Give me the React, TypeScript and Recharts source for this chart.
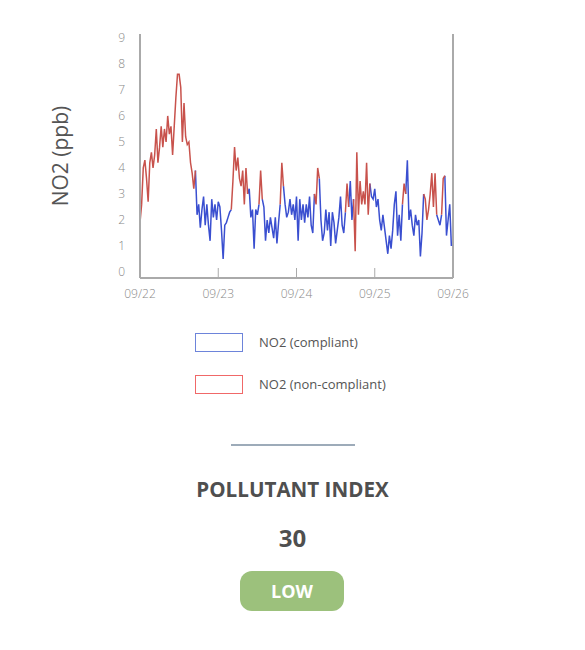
import { LineChart, Line, XAxis, YAxis, ReferenceLine } from 'recharts';

// 30-minute readings starting 09/22 00:00
const no2Values = [
  1.9, 2.6, 4.0, 4.3, 3.6, 2.7, 4.2, 4.6, 4.0, 4.5,
  5.5, 4.2, 4.8, 5.6, 4.8, 5.5, 5.0, 6.0, 5.3, 5.6,
  4.5, 5.6, 6.7, 7.6, 7.6, 7.1, 5.0, 6.5, 5.2, 4.9,
  5.0, 4.2, 3.8, 3.2, 3.9, 2.2, 2.6, 1.7, 2.4, 2.9,
  1.8, 2.6, 1.8, 1.2, 2.8, 2.1, 2.6, 2.0, 2.7, 2.5,
  1.6, 0.5, 1.8, 1.9, 2.1, 2.3, 2.4, 3.5, 4.8, 3.9,
  4.4, 3.6, 3.3, 3.9, 2.6, 4.0, 3.0, 3.2, 2.1, 2.4,
  0.9, 2.4, 2.2, 2.6, 3.9, 2.8, 2.5, 1.2, 2.0, 1.5,
  2.1, 1.7, 1.3, 2.1, 1.1, 1.9, 2.6, 4.2, 3.3, 2.6,
  2.1, 2.3, 2.8, 2.2, 2.6, 2.0, 2.9, 1.2, 2.8, 2.0,
  2.6, 1.9, 2.6, 2.1, 2.9, 1.8, 1.5, 3.0, 2.6, 4.0,
  3.6, 2.0, 1.2, 1.5, 2.4, 1.6, 2.3, 1.0, 2.3, 1.9,
  1.1, 1.6, 2.1, 2.9, 1.8, 1.5, 2.3, 3.4, 2.5, 3.5,
  2.0, 2.8, 0.8, 4.6, 2.2, 3.5, 2.6, 3.1, 2.6, 4.2,
  2.2, 3.4, 2.9, 2.8, 3.2, 2.5, 2.8, 2.0, 1.6, 2.2,
  1.7, 1.2, 0.7, 1.4, 0.9, 1.6, 2.6, 3.1, 1.4, 2.2,
  1.2, 2.6, 3.4, 3.0, 4.3, 2.0, 2.4, 1.8, 1.4, 2.2,
  1.8, 2.0, 0.6, 1.5, 3.0, 2.8, 2.0, 2.4, 3.0, 3.8,
  2.5, 3.8, 2.2, 2.0, 1.8, 2.2, 3.6, 3.7, 1.4, 2.0,
  2.6, 1.0,
];

// index ranges (inclusive) flagged non-compliant
const nonCompliantRanges = [
  [0, 34], [56, 66], [73, 75], [86, 88], [107, 110],
  [126, 128], [131, 141], [161, 163], [174, 182], [185, 187],
];

const dayTicks = [0, 24, 48, 72, 96];
const dayLabels = ['09/22', '09/23', '09/24', '09/25', '09/26'];
const yTicks = [0, 1, 2, 3, 4, 5, 6, 7, 8, 9];

const legendItems = [
  { label: 'NO2 (compliant)', border: '#6d84da' },
  { label: 'NO2 (non-compliant)', border: '#f06868' },
];

const indexValue = 30;
const indexLevel = 'LOW';

const data = no2Values.map((v, i) => {
  const inRange = nonCompliantRanges.some(([a, b]) => i >= a && i <= b);
  const inside = nonCompliantRanges.some(([a, b]) => i > a && i < b);
  return {
    h: i * 0.5,
    compliant: inside ? null : v,
    nonCompliant: inRange ? v : null,
  };
});

const font = '"Open Sans", sans-serif';

function DayTick(props: any) {
  const { x, y, payload, index } = props;
  const axisY = y - 11;
  return (
    <g>
      {index > 0 && index < dayTicks.length - 1 && (
        <line x1={x} x2={x} y1={axisY - 10} y2={axisY} stroke="#aaa" strokeWidth={1} />
      )}
      <text x={x} y={y} dy="0.71em" textAnchor="middle" fill="#888" fontSize={12} fontWeight={300} fontFamily={font}>
        {dayLabels[dayTicks.indexOf(payload.value)]}
      </text>
    </g>
  );
}

export default function App() {
  return (
    <div style={{ position: 'absolute', left: 0, top: 0, width: 585, height: 650, background: '#fff', fontFamily: font }}>
      <LineChart width={585} height={312} data={data} margin={{ top: 34, right: 132, bottom: 0, left: 0 }}>
        <XAxis
          dataKey="h"
          type="number"
          domain={[0, 96]}
          ticks={dayTicks}
          tickSize={0}
          tickMargin={11}
          tickLine={false}
          tick={<DayTick />}
          height={34}
          stroke="#aaa"
          strokeWidth={2}
          allowDataOverflow
        />
        <YAxis
          domain={[-0.23, 9.15]}
          ticks={yTicks}
          width={140}
          tickSize={0}
          tickMargin={15}
          tickLine={false}
          stroke="#aaa"
          strokeWidth={2}
          allowDataOverflow
          tick={{ fill: '#888', fontSize: 12, fontWeight: 300, fontFamily: font }}
          label={(p: any) => {
            const vb = p.viewBox || { x: 0, y: 34, width: 140, height: 244 };
            const cx = vb.x + 60;
            const cy = vb.y + vb.height / 2;
            return (
              <text x={cx} y={cy} transform={`rotate(-90 ${cx} ${cy})`} textAnchor="middle" dominantBaseline="central" fill="#555" fontSize={21} fontFamily={font}>
                NO2 (ppb)
              </text>
            );
          }}
        />
        <ReferenceLine x={96} stroke="#aaa" strokeWidth={2} />
        <Line type="linear" dataKey="compliant" stroke="#3a4fd0" strokeWidth={1.5} dot={false} connectNulls={false} isAnimationActive={false} />
        <Line type="linear" dataKey="nonCompliant" stroke="#c8524c" strokeWidth={1.5} dot={false} connectNulls={false} isAnimationActive={false} />
      </LineChart>

      {legendItems.map((item, k) => (
        <div key={item.label} style={{ position: 'absolute', left: 195, top: 332 + k * 42, height: 20, display: 'flex', alignItems: 'center' }}>
          <div style={{ width: 46, height: 17, border: `1.5px solid ${item.border}` }} />
          <span style={{ marginLeft: 16, fontSize: 13, color: '#555' }}>{item.label}</span>
        </div>
      ))}

      <div style={{ position: 'absolute', left: 231, top: 444, width: 124, height: 2, background: '#9dabb9' }} />

      <div style={{ position: 'absolute', left: 0, width: 585, top: 476, textAlign: 'center', fontSize: 20.6, fontWeight: 700, color: '#4f4f4f', lineHeight: '26px' }}>
        POLLUTANT INDEX
      </div>
      <div style={{ position: 'absolute', left: 0, width: 585, top: 522, textAlign: 'center', fontSize: 24, fontWeight: 700, color: '#4f4f4f', lineHeight: '32px' }}>
        {indexValue}
      </div>
      <div style={{ position: 'absolute', left: 240, top: 571, width: 104, height: 40, borderRadius: 12, background: '#9cc17c', color: '#fff', fontSize: 18, fontWeight: 700, display: 'flex', alignItems: 'center', justifyContent: 'center' }}>
        {indexLevel}
      </div>
    </div>
  );
}
